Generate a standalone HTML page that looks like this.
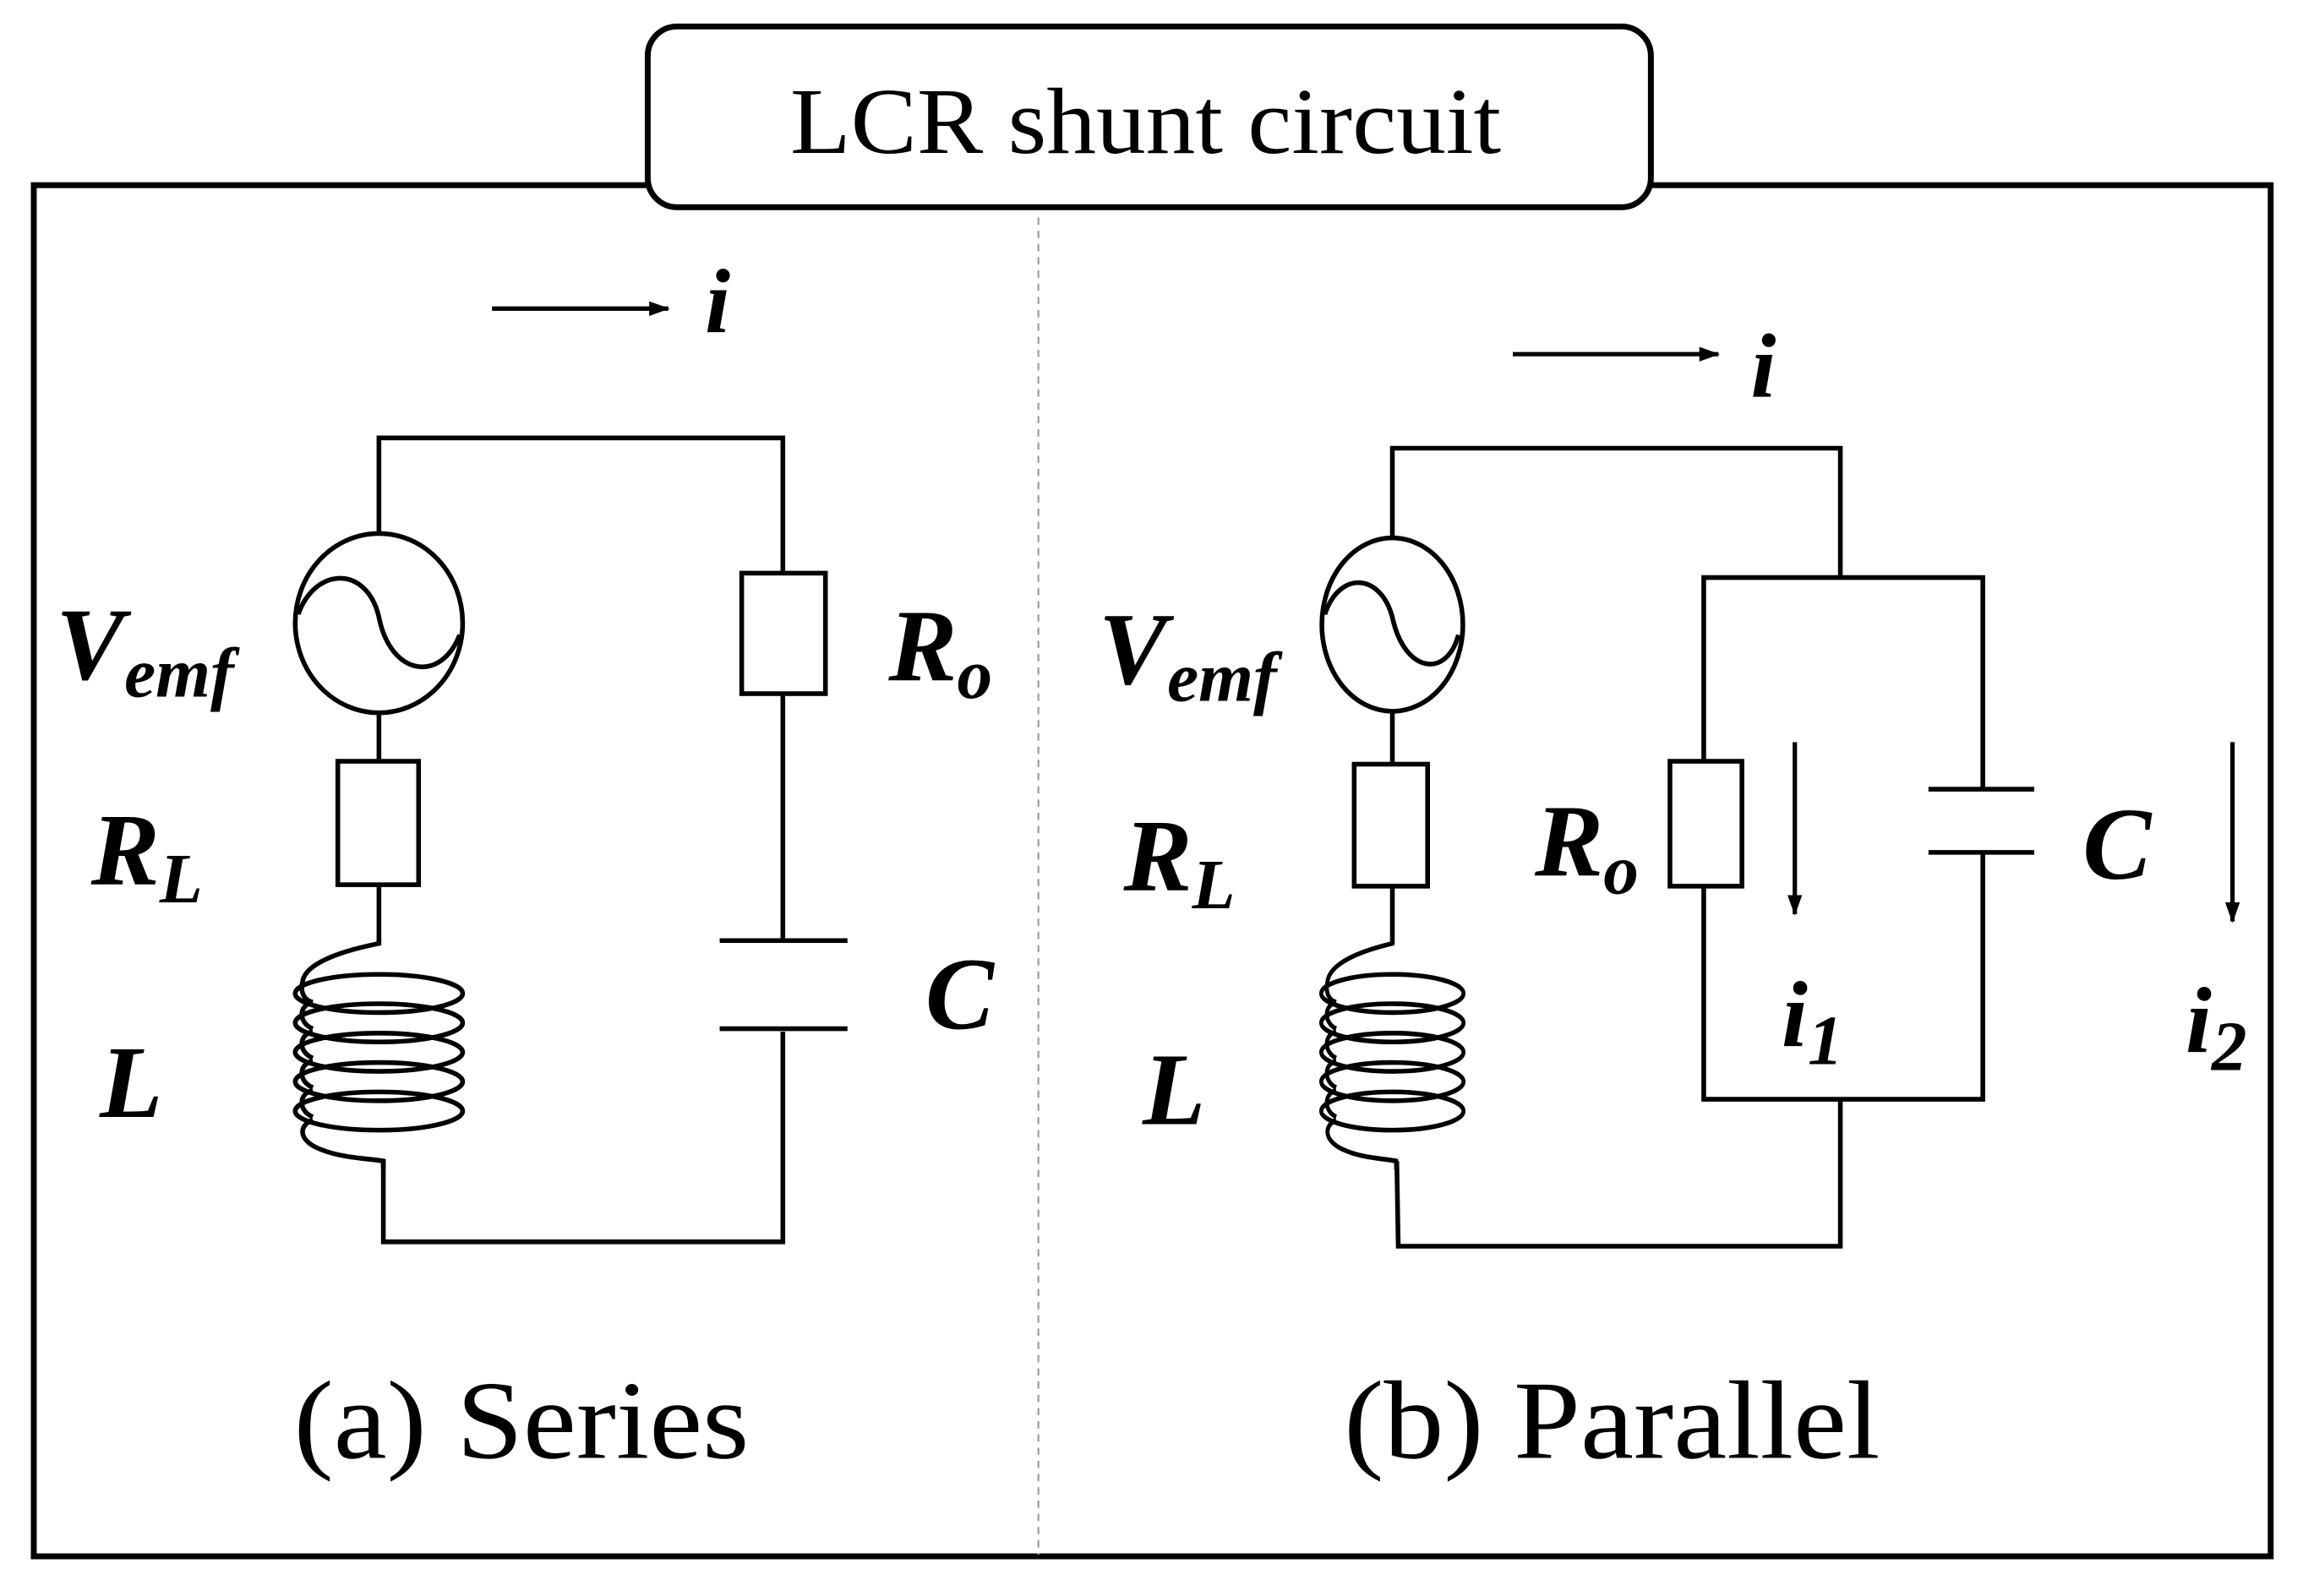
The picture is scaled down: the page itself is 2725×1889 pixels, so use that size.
<!DOCTYPE html>
<html><head><meta charset="utf-8"><style>
html,body{margin:0;padding:0;background:#fff;}
svg{display:block;}
text{font-family:"Liberation Serif",serif;fill:#000;}
.lbl{font-weight:bold;font-style:italic;}
</style></head><body>
<svg width="2725" height="1889" viewBox="0 0 1568 1086" preserveAspectRatio="none" xmlns="http://www.w3.org/2000/svg">
<defs>
<marker id="ah" markerWidth="14" markerHeight="10" refX="13" refY="5" orient="auto" markerUnits="userSpaceOnUse">
<path d="M0,0 L14,5 L0,10 Z" fill="#000"/>
</marker>
<g id="coil" fill="none" stroke="#000" stroke-width="3.2">
<path d="M0,-37 L0,-34 C-20,-30 -50,-22 -52,-8 C-54,0 -50,5 -45,6"/>
<ellipse cx="0" cy="0" rx="57" ry="13"/>
<ellipse cx="0" cy="20" rx="57" ry="13"/>
<ellipse cx="0" cy="40" rx="57" ry="13"/>
<ellipse cx="0" cy="60" rx="57" ry="13"/>
<ellipse cx="0" cy="80" rx="57" ry="13"/>
<path d="M-45,6 C-55,8 -55,20 -45,24 M-45,26 C-55,28 -55,40 -45,44 M-45,46 C-55,48 -55,60 -45,64 M-45,66 C-55,68 -55,80 -45,84"/>
<path d="M-45,86 C-55,90 -55,100 -40,106 C-25,112 -10,112 3,114 L3,120"/>
</g>
</defs>

<rect x="23" y="126" width="1523" height="933" fill="none" stroke="#000" stroke-width="4"/>
<line x1="707" y1="148" x2="707" y2="1058" stroke="#999" stroke-width="1.2" stroke-dasharray="5,4"/>
<rect x="441" y="18" width="683" height="123" rx="20" ry="20" fill="#fff" stroke="#000" stroke-width="4"/>
<text x="538" y="104" font-size="64" textLength="484" lengthAdjust="spacingAndGlyphs">LCR shunt circuit</text>

<!-- SERIES -->
<g fill="none" stroke="#000" stroke-width="3.2">
<line x1="335" y1="210" x2="455" y2="210" stroke-width="3" marker-end="url(#ah)"/>
<polyline points="258,362 258,298 533,298 533,390"/>
<ellipse cx="258" cy="424" rx="57" ry="61"/>
<path d="M203,418 C215,385 250,385 258,420 C266,460 300,465 313,432"/>
<line x1="258" y1="485" x2="258" y2="518"/>
<rect x="230" y="518" width="55" height="84"/>
<line x1="258" y1="602" x2="258" y2="642"/>
<polyline points="261,790 261,845 533,845 533,702"/>
<rect x="505" y="390" width="57" height="82"/>
<line x1="533" y1="472" x2="533" y2="640"/>
<line x1="490" y1="640" x2="577" y2="640"/>
<line x1="490" y1="700" x2="577" y2="700"/>
</g>
<use href="#coil" x="258" y="676"/>
<text class="lbl" x="480" y="226" font-size="62">i</text>
<text class="lbl" x="38" y="462" font-size="70">V<tspan font-size="48" dy="12">emf</tspan></text>
<text class="lbl" x="62" y="602" font-size="70">R<tspan font-size="48" dy="12">L</tspan></text>
<text class="lbl" x="68" y="760" font-size="70">L</text>
<text class="lbl" x="605" y="463" font-size="70">R<tspan font-size="48" dy="12">o</tspan></text>
<text class="lbl" x="630" y="700" font-size="70">C</text>
<text x="200" y="992" font-size="76" textLength="310" lengthAdjust="spacingAndGlyphs">(a) Series</text>

<!-- PARALLEL -->
<g fill="none" stroke="#000" stroke-width="3.2">
<line x1="1030" y1="241" x2="1170" y2="241" stroke-width="3" marker-end="url(#ah)"/>
<polyline points="948,366 948,305 1253,305 1253,393"/>
<ellipse cx="948" cy="425" rx="48" ry="59"/>
<path d="M902,418 C912,388 940,390 948,420 C956,458 985,462 993,432"/>
<line x1="948" y1="484" x2="948" y2="520"/>
<rect x="922" y="520" width="50" height="83"/>
<line x1="948" y1="603" x2="948" y2="642"/>
<polyline points="951,790 952,848 1253,848 1253,748"/>
<polyline points="1160,518 1160,393 1350,393 1350,537"/>
<polyline points="1160,603 1160,748 1350,748 1350,580"/>
<rect x="1137" y="518" width="49" height="85"/>
<line x1="1313" y1="537" x2="1385" y2="537"/>
<line x1="1313" y1="580" x2="1385" y2="580"/>
<line x1="1222" y1="505" x2="1222" y2="622" stroke-width="3" marker-end="url(#ah)"/>
<line x1="1520" y1="505" x2="1520" y2="627" stroke-width="3" marker-end="url(#ah)"/>
</g>
<g transform="translate(948,676) scale(0.85,1)"><use href="#coil"/></g>
<text class="lbl" x="1192" y="270" font-size="62">i</text>
<text class="lbl" x="748" y="465" font-size="70">V<tspan font-size="48" dy="12">emf</tspan></text>
<text class="lbl" x="765" y="606" font-size="70">R<tspan font-size="48" dy="12">L</tspan></text>
<text class="lbl" x="778" y="765" font-size="70">L</text>
<text class="lbl" x="1045" y="596" font-size="70">R<tspan font-size="48" dy="12">o</tspan></text>
<text class="lbl" x="1418" y="598" font-size="70">C</text>
<text class="lbl" x="1213" y="712" font-size="64">i<tspan font-size="48" dy="12">1</tspan></text>
<text class="lbl" x="1488" y="716" font-size="64">i<tspan font-size="48" dy="12">2</tspan></text>
<text x="915" y="992" font-size="76" textLength="365" lengthAdjust="spacingAndGlyphs">(b) Parallel</text>
</svg>
</body></html>
